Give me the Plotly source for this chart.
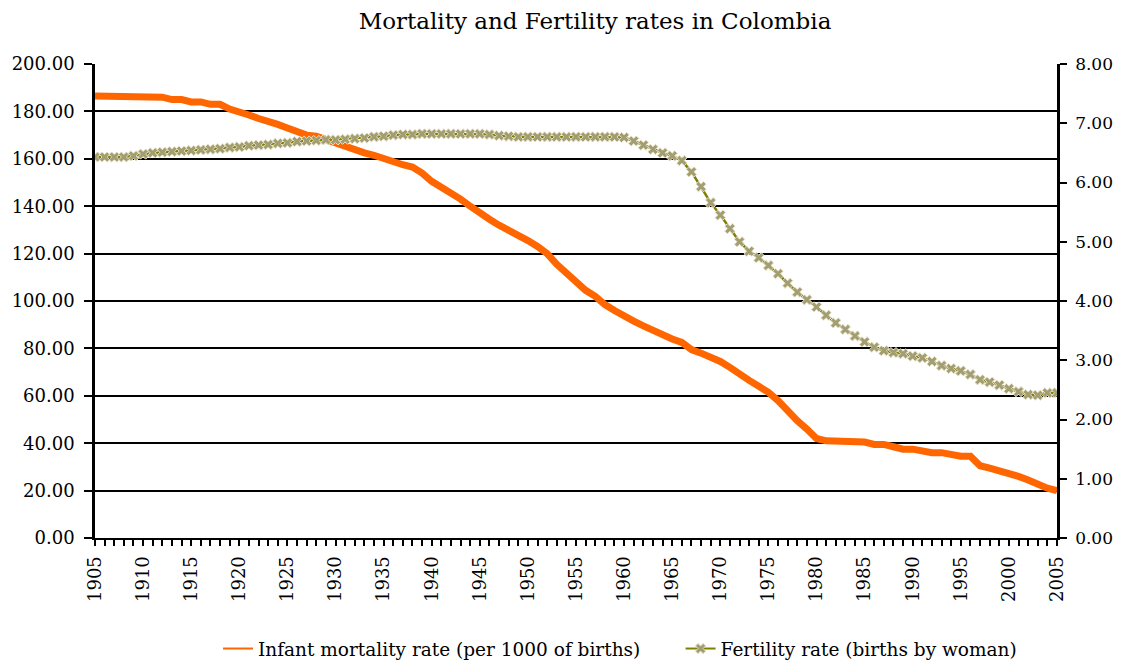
import plotly.graph_objects as go

years = list(range(1905, 2006))

infant_mortality = [
    186.5, 186.5, 186.5, 186.5, 186, 186, 186, 186, 185, 185,
    184, 184, 183, 183, 181, 180, 178.5, 177, 176, 174.5,
    173, 171.5, 170, 169.5, 168, 166.5, 165, 164, 162.5, 161.5,
    160, 159, 157.5, 156.5, 154, 150.5, 148, 146, 143, 140,
    137, 134.5, 132, 130, 128, 125.5, 123, 120, 115.5, 112,
    108, 104.5, 102, 98.5, 96, 93.5, 91.5, 89.5, 87.5, 85.5,
    84, 82.5, 79.5, 78, 76.5, 74.5, 72, 69, 66.5, 64,
    61.5, 58, 53.5, 49.5, 46, 42, 41, 41, 40.5, 40.5,
    40.5, 39.5, 39.5, 38.5, 37.5, 37.5, 36.5, 36, 36, 35,
    34.5, 34.5, 30.5, 29.5, 28.5, 27.5, 26, 24.5, 22.5, 21,
    20,
]

fertility = [
    6.43, 6.43, 6.43, 6.43, 6.45, 6.48, 6.50, 6.51, 6.52, 6.53,
    6.54, 6.55, 6.56, 6.57, 6.59, 6.60, 6.62, 6.63, 6.64, 6.66,
    6.67, 6.69, 6.70, 6.71, 6.72, 6.72, 6.73, 6.74, 6.75, 6.77,
    6.78, 6.80, 6.81, 6.81, 6.82, 6.82, 6.82, 6.82, 6.82, 6.82,
    6.82, 6.81, 6.79, 6.78, 6.77, 6.77, 6.77, 6.77, 6.77, 6.77,
    6.77, 6.77, 6.77, 6.77, 6.77, 6.76, 6.70, 6.63, 6.56, 6.50,
    6.45, 6.37, 6.18, 5.93, 5.66, 5.45, 5.22, 5.00, 4.84, 4.73,
    4.60, 4.46, 4.30, 4.15, 4.02, 3.90, 3.76, 3.63, 3.52, 3.41,
    3.31, 3.22, 3.16, 3.13, 3.11, 3.07, 3.04, 2.98, 2.91, 2.86,
    2.82, 2.76, 2.67, 2.63, 2.58, 2.52, 2.47, 2.42, 2.41, 2.45,
    2.45,
]

label_years = list(range(1905, 2006, 5))
left_ticks = list(range(0, 201, 20))
right_ticks = list(range(0, 9))

series_names = ["Infant mortality rate (per 1000 of births)",
                "Fertility rate (births by woman)"]

FONT = "DejaVu Serif"
ORANGE = "#FF6600"
OLIVE = "#808000"
MARKER = dict(symbol="x", size=9, color="#A39D72",
              line=dict(color="#E4E0C6", width=1))

fig = go.Figure()
fig.add_trace(go.Scatter(
    x=years, y=infant_mortality, mode="lines", name=series_names[0],
    line=dict(color=ORANGE, width=7), yaxis="y", showlegend=False,
))
fig.add_trace(go.Scatter(
    x=years, y=fertility, mode="lines+markers", name=series_names[1],
    line=dict(color=OLIVE, width=2.5), marker=MARKER,
    yaxis="y2", showlegend=False,
))
# legend entries (thin samples like the original)
fig.add_trace(go.Scatter(
    x=[None], y=[None], mode="lines",
    name=series_names[0] + "\u00a0" * 6,
    line=dict(color=ORANGE, width=2), yaxis="y",
))
fig.add_trace(go.Scatter(
    x=[None], y=[None], mode="lines+markers", name=series_names[1],
    line=dict(color=OLIVE, width=2), marker=MARKER, yaxis="y2",
))

W, H = 1117, 657
fig.update_layout(
    width=W, height=H,
    paper_bgcolor="white", plot_bgcolor="white",
    font=dict(family=FONT, size=17, color="black"),
    title=dict(text="Mortality and Fertility rates in Colombia",
               x=587 / W, xanchor="center", y=1 - 5 / H, yanchor="top",
               font=dict(family=FONT, size=23, color="black")),
    margin=dict(l=87, r=68, t=56, b=127, pad=0),
    showlegend=True,
    legend=dict(orientation="h", xref="container", yref="container",
                x=612 / W, xanchor="center", y=16 / H, yanchor="middle",
                font=dict(family=FONT, size=18.5), bgcolor="rgba(0,0,0,0)",
                itemwidth=30, tracegroupgap=0),
    xaxis=dict(
        range=[1905, 2005], tickmode="array", tickvals=label_years,
        ticktext=[str(y) for y in label_years], tickangle=-90,
        ticks="outside", ticklen=6, tickcolor="black", tickwidth=1.5,
        minor=dict(dtick=1, tick0=1905, ticks="outside", ticklen=6,
                   tickcolor="black", tickwidth=1.5, showgrid=False),
        showgrid=False, zeroline=False, automargin=False,
        showline=True, linecolor="black", linewidth=2,
        tickfont=dict(family=FONT, size=18), ticklabelstandoff=3,
    ),
    yaxis=dict(
        range=[0, 200], tickmode="array", tickvals=left_ticks,
        tickformat=".2f", ticks="outside", ticklen=8, tickcolor="black",
        tickwidth=2, showgrid=True, gridcolor="black", gridwidth=1.5,
        zeroline=False, showline=True, linecolor="black", linewidth=2.5,
        tickfont=dict(family=FONT, size=18), ticklabelstandoff=6,
        automargin=False,
    ),
    yaxis2=dict(
        range=[0, 8], tickmode="array", tickvals=right_ticks,
        tickformat=".2f", overlaying="y", side="right",
        ticks="outside", ticklen=7, tickcolor="black", tickwidth=2,
        showgrid=False, zeroline=False, showline=True,
        linecolor="black", linewidth=2.5,
        tickfont=dict(family=FONT, size=17), ticklabelstandoff=5,
        automargin=False,
    ),
)

fig.write_html("out.html")
